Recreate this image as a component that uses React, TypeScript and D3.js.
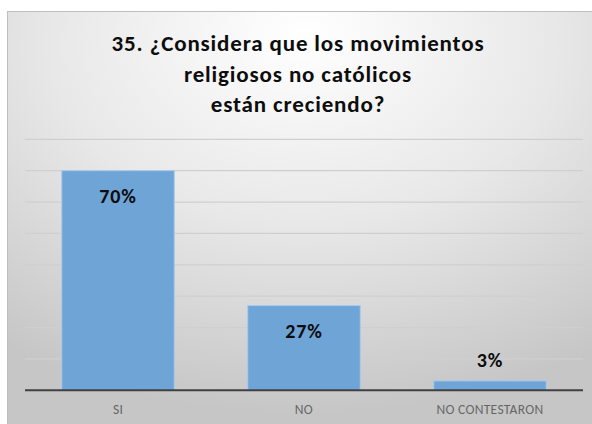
import React from "react";
import * as d3 from "d3";

const categories = ["SI", "NO", "NO CONTESTARON"];
const values = [0.7, 0.27, 0.03];
const labels = ["70%", "27%", "3%"];
const yTicks = [0, 0.1, 0.2, 0.3, 0.4, 0.5, 0.6, 0.7, 0.8];
const titleLines = ["35. ¿Considera que los movimientos", "religiosos no católicos", "están creciendo?"];

const W = 592;
const H = 424;
const FONT = "Carlito, Calibri, Lato, 'Open Sans', sans-serif";

export default function App() {
  const left = 25, right = 583, top = 139.3, bottom = 390.3;
  const x = d3.scaleBand<string>().domain(categories).range([left, right]).paddingInner(0.395).paddingOuter(0.1975);
  const y = d3.scaleLinear().domain([0, 0.8]).range([bottom, top]);

  return (
    <svg width={W} height={H} style={{ position: "absolute", left: 0, top: 0 }}>
      <defs>
        <radialGradient id="bg" cx="0.5" cy="0.1" r="0.85" fx="0.5" fy="0.05">
          <stop offset="0" stopColor="#ffffff" />
          <stop offset="0.5" stopColor="#e8e8e8" />
          <stop offset="1" stopColor="#c6c6c6" />
        </radialGradient>
      </defs>
      <rect x={7.5} y={11.5} width={W} height={H} fill="url(#bg)" stroke="#bfbfbf" strokeWidth={1} />
      {titleLines.map((t, i) => (
        <text key={i} x={298} y={51 + i * 30.5} textAnchor="middle" fontFamily={FONT} fontWeight="bold" fontSize={23} letterSpacing={0.85} fill="#0d0d0d">
          {t}
        </text>
      ))}
      {yTicks.slice(1).map((v) => (
        <line key={v} x1={left} x2={right} y1={y(v)} y2={y(v)} stroke="#cfcfcf" strokeWidth={1.2} />
      ))}
      {categories.map((c, i) => (
        <rect key={c} x={x(c)} y={y(values[i])} width={x.bandwidth()} height={bottom - y(values[i])} fill="#6fa4d7" stroke="#a8cbec" strokeWidth={1} />
      ))}
      <line x1={left} x2={right} y1={bottom} y2={bottom} stroke="#404040" strokeWidth={2} />
      {categories.map((c, i) => {
        const cx = (x(c) as number) + x.bandwidth() / 2;
        const inside = values[i] > 0.1;
        const ly = inside ? y(values[i]) + 32 : y(values[i]) - 14;
        return (
          <text key={c} x={cx} y={ly} textAnchor="middle" fontFamily={FONT} fontWeight="bold" fontSize={20} letterSpacing={0.8} fill="#0d0d0d">
            {labels[i]}
          </text>
        );
      })}
      {categories.map((c) => (
        <text key={c} x={(x(c) as number) + x.bandwidth() / 2} y={413.5} textAnchor="middle" fontFamily={FONT} fontSize={13.5} letterSpacing={0.3} fill="#666666">
          {c}
        </text>
      ))}
    </svg>
  );
}
